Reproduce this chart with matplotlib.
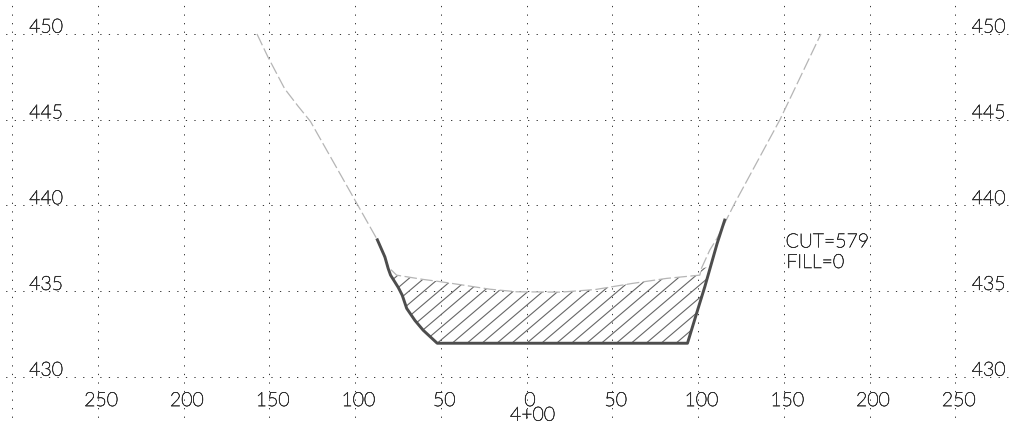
import numpy as np
import matplotlib
matplotlib.use("Agg")
import matplotlib.pyplot as plt
import matplotlib.patheffects as pe
from matplotlib.patches import Polygon

# cross section at station 4+00
offset_ticks = [-300, -250, -200, -150, -100, -50, 0, 50, 100, 150, 200, 250]
offset_labels = [-250, -200, -150, -100, -50, 0, 50, 100, 150, 200, 250]
elev_ticks = [430, 435, 440, 445, 450]

ground_x = [-157.2, -150.8, -141, -133.3, -126, -100, -87, -80.5, -75.8, -60.3, -52.5, -37, -21.4,
            -5.8, 20, 40, 61.2, 81.6, 101, 102, 106.8, 111, 121.4, 147.7, 171.6]
ground_y = [450, 448.66, 446.8, 445.8, 444.9, 440.3, 438, 436.4, 435.94, 435.69, 435.59, 435.36, 435.12,
            434.97, 434.95, 435.1, 435.45, 435.75, 435.94, 436.35, 437.4, 438.08, 440.14, 445, 450]

design_x = [-87, -82.6, -80.7, -79.3, -74.8, -72.5, -69.9, -65.1, -60.3, -52.1, 93.8, 100, 103.9, 107.2, 111.1, 115.5]
design_y = [438, 437, 436.33, 435.94, 435.22, 434.77, 434, 433.3, 432.73, 431.97, 431.97, 434, 435.26, 436.42, 437.79, 439.15]

# outline of the cut area, ground along the top then design back along the bottom
cut_top_x = [-79.3, -75.8, -60.3, -52.5, -37, -21.4, -5.8, 20, 40, 61.2, 81.6, 101, 102, 107.2]
cut_top_y = [435.94, 435.94, 435.69, 435.59, 435.36, 435.12, 434.97, 434.95, 435.1, 435.45, 435.75, 435.94, 436.35, 436.42]
cut_low_x = [107.2, 103.9, 100, 93.8, -52.1, -60.3, -65.1, -69.9, -72.5, -74.8, -79.3]
cut_low_y = [436.42, 435.26, 434, 431.97, 431.97, 432.73, 433.3, 434, 434.77, 435.22, 435.94]

hatch_step = 8.7
hatch_slope = 0.085

plt.rcParams["font.family"] = ["Lato", "DejaVu Sans"]
text_color = "#333333"
# the light Lato comes out too faint on its own, so thicken it a little
label_style = dict(fontsize=14, color=text_color, fontweight="light",
                   path_effects=[pe.withStroke(linewidth=0.45, foreground=text_color)])

fig = plt.figure(figsize=(10.12, 4.23), dpi=100)
ax = fig.add_axes([0, 0, 1, 1])
ax.set_xlim(-307, 283)
ax.set_ylim(427.32, 451.98)

ax.set_xticks(offset_ticks)
ax.set_yticks(elev_ticks)
ax.grid(True, color="#333333", linewidth=0.7, linestyle=(3, (1.3, 7.5)))
ax.tick_params(length=0, labelbottom=False, labelleft=False)
for s in ax.spines.values():
    s.set_visible(False)

# hatching, clipped to the cut outline
cut_poly = Polygon(list(zip(cut_top_x + cut_low_x, cut_top_y + cut_low_y)), closed=True, fc="none", ec="none")
ax.add_patch(cut_poly)
for x0 in np.arange(-52.1 - hatch_step * 8, 94, hatch_step):
    xs = np.array([x0, x0 + 100])
    line, = ax.plot(xs, 431.97 + hatch_slope * (xs - x0), color="#666666", lw=0.8)
    line.set_clip_path(cut_poly)

ax.plot(ground_x, ground_y, color="#b5b5b5", lw=0.9, linestyle=(0, (10, 2.8)))
ax.plot(design_x, design_y, color="#4d4d4d", lw=2.1, solid_joinstyle="round")

for v in offset_labels:
    ax.text(v + 2, 428.6, str(abs(v)), ha="center", va="center", **label_style)
for v in elev_ticks:
    ax.text(-290, v + 0.08, str(v), ha="left", va="baseline", **label_style)
    ax.text(259.5, v + 0.08, str(v), ha="left", va="baseline", **label_style)

ax.text(3.5, 427.75, "4+00", ha="center", va="center", **label_style)
ax.text(151, 437.85, "CUT=579", ha="left", va="center", **label_style)
ax.text(151.5, 436.65, "FILL=0", ha="left", va="center", **label_style)

fig.savefig("out.png", dpi=100)
